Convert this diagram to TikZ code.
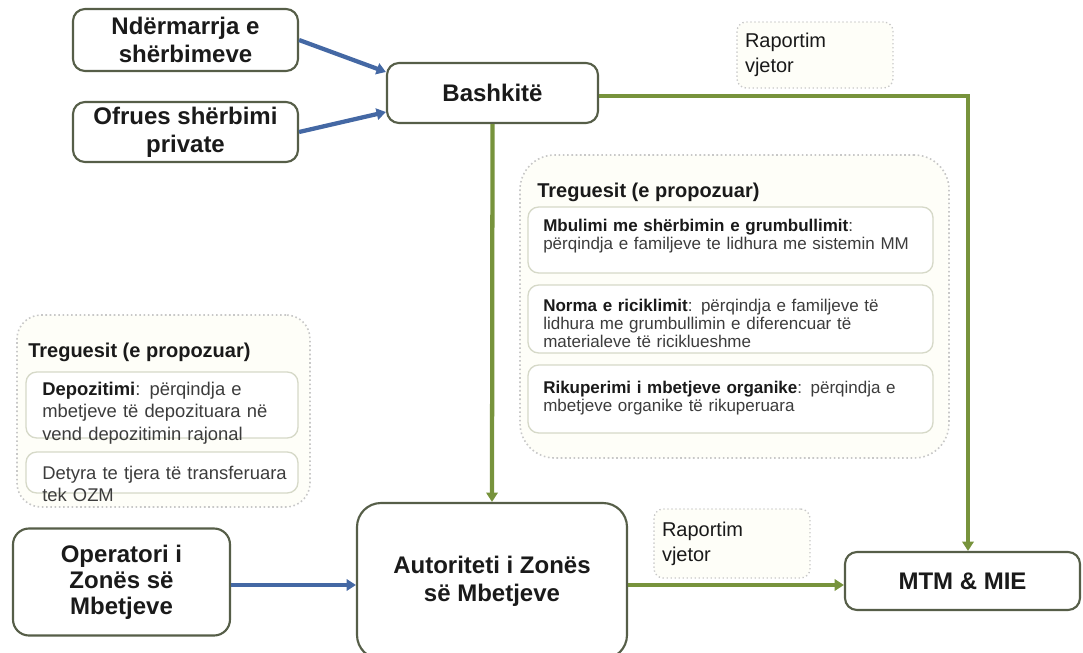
\documentclass[tikz,border=0pt]{standalone}
\usepackage{fontspec}
\setmainfont{Liberation Sans}
\usetikzlibrary{arrows.meta,calc}
\definecolor{bordc}{HTML}{565E48}
\definecolor{greenc}{HTML}{77933C}
\definecolor{bluec}{HTML}{4468A4}
\definecolor{dotc}{HTML}{C8C8C8}
\definecolor{innerc}{HTML}{D6D9C8}
\definecolor{txtc}{HTML}{1A1A1A}
\definecolor{smallc}{HTML}{3C3C3C}
\definecolor{creamc}{HTML}{FEFEF8}
\begin{document}
\begin{tikzpicture}[x=0.75pt,y=-0.75pt,
  mainbox/.style={draw=bordc, line width=1.6pt, rounded corners=9pt, fill=white,
    align=center, font=\fontsize{18}{21}\selectfont\bfseries, text=txtc, inner sep=0pt},
  dotbox/.style={draw=dotc, dotted, line width=1pt, rounded corners=7pt, fill=creamc,
    align=left, font=\fontsize{15}{18.75}\selectfont, text=txtc, inner xsep=6pt, inner ysep=0pt},
  groupbox/.style={draw=dotc, dotted, line width=1.2pt, fill=creamc, inner sep=0pt},
  innerbox/.style={draw=innerc, line width=1pt, rounded corners=8pt, fill=white, inner sep=0pt},
  titletext/.style={anchor=base west, inner sep=0pt, font=\fontsize{15}{18}\selectfont\bfseries, text=txtc},
  ltext/.style={anchor=base west, inner sep=0pt, align=left, text width=250pt,
    font=\fontsize{13.8}{17.2}\selectfont, text=smallc},
  rtext/.style={anchor=base west, inner sep=0pt, align=left, text width=300pt,
    font=\fontsize{12.75}{13.6}\selectfont, text=smallc},
  bluearrow/.style={draw=bluec, line width=3.2pt, -{Triangle[length=7pt,width=8.5pt]}},
  greenarrow/.style={draw=greenc, line width=3.2pt, -{Triangle[length=7pt,width=8.5pt]}}
]
\useasboundingbox (0,0) rectangle (1083,653);

% group boxes
\node (grpL) [groupbox, rounded corners=18pt, minimum width=293*0.75pt, minimum height=192*0.75pt] at (163.5,411) {};
\node (grpR) [groupbox, rounded corners=26pt, minimum width=429*0.75pt, minimum height=303*0.75pt] at (734.5,306.5) {};

\node (titL) [titletext] at (28,357) {Treguesit (e propozuar)};
\node (titR) [titletext] at (537,197) {Treguesit (e propozuar)};

\node (inL1) [innerbox, minimum width=272*0.75pt, minimum height=66*0.75pt] at (162,405) {};
\node (inL2) [innerbox, minimum width=272*0.75pt, minimum height=41*0.75pt] at (162,472.5) {};
\node (inR1) [innerbox, minimum width=405*0.75pt, minimum height=66*0.75pt] at (730.5,240) {};
\node (inR2) [innerbox, minimum width=405*0.75pt, minimum height=68*0.75pt] at (730.5,319) {};
\node (inR3) [innerbox, minimum width=405*0.75pt, minimum height=68*0.75pt] at (730.5,399) {};

\node (txL1) [ltext] at (42,395) {\textbf{\color{txtc}Depozitimi}: përqindja e\\mbetjeve të depozituara në\\vend depozitimin rajonal};
\node (txL2) [ltext] at (42,479) {Detyra te tjera të transferuara\\tek OZM};
\node (txR1) [rtext] at (543,231) {\textbf{\color{txtc}Mbulimi me shërbimin e grumbullimit}:\\përqindja e familjeve te lidhura me sistemin MM};
\node (txR2) [rtext] at (543,311) {\textbf{\color{txtc}Norma e riciklimit}: përqindja e familjeve të\\lidhura me grumbullimin e diferencuar të\\materialeve të riciklueshme};
\node (txR3) [rtext] at (543,393) {\textbf{\color{txtc}Rikuperimi i mbetjeve organike}: përqindja e\\mbetjeve organike të rikuperuara};

% report labels
\node (rap1) [dotbox, text width=140*0.75pt, minimum width=156*0.75pt, minimum height=66*0.75pt] at (815,55) {Raportim\\vjetor};
\node (rap2) [dotbox, text width=140*0.75pt, minimum width=156*0.75pt, minimum height=69*0.75pt] at (732,543.5) {Raportim\\vjetor};

% main boxes
\node (nd) [mainbox, minimum width=225*0.75pt, minimum height=62*0.75pt] at (185.5,40) {Ndërmarrja e\\shërbimeve};
\node (of) [mainbox, minimum width=225*0.75pt, minimum height=60*0.75pt] at (185.5,132) {Ofrues shërbimi\\private};
\node (ba) [mainbox, minimum width=211*0.75pt, minimum height=60*0.75pt] at (492.5,93) {Bashkitë};
\node (op) [mainbox, rounded corners=12pt, minimum width=217*0.75pt, minimum height=107*0.75pt, font=\fontsize{18}{19.5}\selectfont\bfseries] at (121.5,582) {Operatori i\\Zonës së\\Mbetjeve};
\node (au) [mainbox, rounded corners=18pt, minimum width=270*0.75pt, minimum height=156*0.75pt] at (492,581) {Autoriteti i Zonës\\së Mbetjeve};
\node (mtm) [mainbox, minimum width=235*0.75pt, minimum height=58*0.75pt] at (962.5,581) {MTM \& MIE};

% connectors
\draw[bluearrow] (nd.east) -- ($(ba.west)+(0,-21)$);
\draw[bluearrow] (of.east) -- ($(ba.west)+(0,19)$);
\draw[greenarrow] (ba.south) -- (au.north);
\draw[greenarrow] ($(ba.east)+(0,3)$) -| ($(mtm.north)+(5.5,0)$);
\draw[bluearrow] ($(op.east)+(0,3)$) -- ($(op.east -| au.west)+(0,3)$);
\draw[greenarrow] ($(au.east |- mtm.west)+(0,4)$) -- ($(mtm.west)+(0,4)$);
\end{tikzpicture}
\end{document}
